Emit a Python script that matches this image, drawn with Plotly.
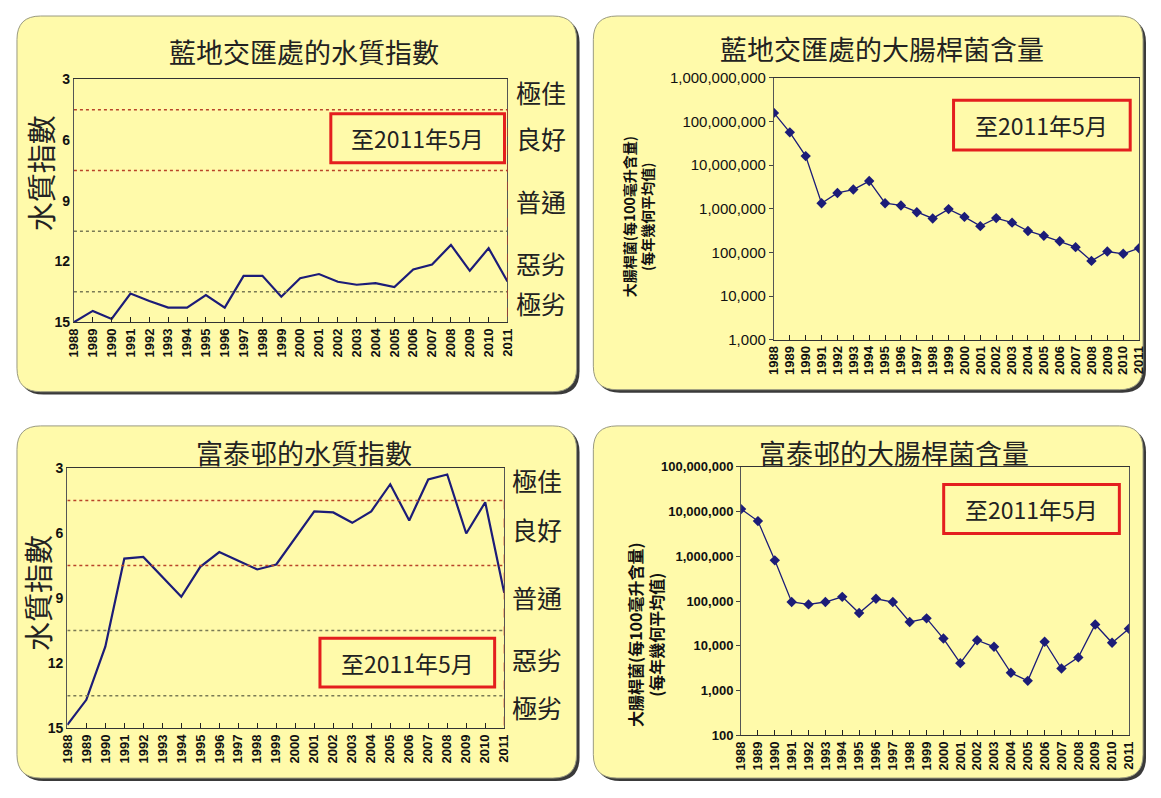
import plotly.graph_objects as go

# ---------------- data ----------------
years = [1988, 1989, 1990, 1991, 1992, 1993, 1994, 1995, 1996, 1997, 1998, 1999,
         2000, 2001, 2002, 2003, 2004, 2005, 2006, 2007, 2008, 2009, 2010, 2011]

lamtei_wqi = [15.0, 14.44, 14.84, 13.58, 13.95, 14.28, 14.28, 13.66, 14.28, 12.71, 12.71, 13.74,
              12.83, 12.62, 13.0, 13.15, 13.07, 13.26, 12.39, 12.15, 11.18, 12.46, 11.34, 12.99]
fuktai_wqi = [14.85, 13.69, 11.24, 7.18, 7.1, 8.0, 8.94, 7.56, 6.88, 7.28, 7.68, 7.45,
              6.2, 5.0, 5.05, 5.53, 5.0, 3.75, 5.42, 3.53, 3.3, 6.02, 4.58, 8.76]
lamtei_ecoli = [1.56e8, 5.6e7, 1.6e7, 1.34e6, 2.3e6, 2.75e6, 4.3e6, 1.34e6, 1.19e6, 8.3e5, 6.0e5, 9.8e5,
                6.5e5, 4.0e5, 6.1e5, 4.8e5, 3.1e5, 2.4e5, 1.8e5, 1.32e5, 6.4e4, 1.05e5, 9.3e4, 1.25e5]
fuktai_ecoli = [1.13e7, 6.1e6, 8.1e5, 9.5e4, 8.4e4, 9.5e4, 1.24e5, 5.4e4, 1.12e5, 9.5e4, 3.4e4, 4.1e4,
                1.45e4, 4.1e3, 1.33e4, 9.5e3, 2.5e3, 1.65e3, 1.23e4, 3.1e3, 5.5e3, 3.0e4, 1.17e4, 2.4e4]

wqi_ticks = [3, 6, 9, 12, 15]
grade_bounds = [4.5, 7.5, 10.5, 13.5]
grade_labels = ["極佳", "良好", "普通", "惡劣", "極劣"]
grade_label_pos_top = [3.65, 5.9, 9.0, 12.05, 14.05]
grade_label_pos_bot = [3.55, 5.8, 8.95, 11.8, 14.0]

ecoli_tick_vals_top = [1e3, 1e4, 1e5, 1e6, 1e7, 1e8, 1e9]
ecoli_tick_text_top = ["1,000", "10,000", "100,000", "1,000,000", "10,000,000", "100,000,000", "1,000,000,000"]
ecoli_tick_vals_bot = [1e2, 1e3, 1e4, 1e5, 1e6, 1e7, 1e8]
ecoli_tick_text_bot = ["100", "1,000", "10,000", "100,000", "1,000,000", "10,000,000", "100,000,000"]

titles = ["藍地交匯處的水質指數", "藍地交匯處的大腸桿菌含量", "富泰邨的水質指數", "富泰邨的大腸桿菌含量"]
note_text = "至2011年5月"
wqi_axis_title = "水質指數"
ecoli_axis_title = "大腸桿菌(每100毫升含量)<br>(每年幾何平均值)"

# ---------------- styling helpers ----------------
PAGE_W, PAGE_H = 1161, 798
BODY_MARGIN = 8                      # default browser body margin around the plot div
W, H = PAGE_W - 2 * BODY_MARGIN, PAGE_H - 2 * BODY_MARGIN
YELLOW = "#FFFAAA"
NAVY = "#1C1C78"
RED = "#E41E1E"
CJK = "Noto Sans CJK TC"
LAT = "Liberation Sans"


def X(px):
    return (px - BODY_MARGIN) / W


def Y(py):
    return 1 - (py - BODY_MARGIN) / H


def rrect_path(x0, y0, x1, y1, r):
    def p(x, y):
        return f"{X(x):.5f},{Y(y):.5f}"
    return (f"M {p(x0 + r, y0)} L {p(x1 - r, y0)} Q {p(x1, y0)} {p(x1, y0 + r)} "
            f"L {p(x1, y1 - r)} Q {p(x1, y1)} {p(x1 - r, y1)} "
            f"L {p(x0 + r, y1)} Q {p(x0, y1)} {p(x0, y1 - r)} "
            f"L {p(x0, y0 + r)} Q {p(x0, y0)} {p(x0 + r, y0)} Z")


fig = go.Figure()

fig.add_trace(go.Scatter(x=years, y=lamtei_wqi, mode="lines", line=dict(color=NAVY, width=2.2),
                         xaxis="x", yaxis="y"))
fig.add_trace(go.Scatter(x=years, y=lamtei_ecoli, mode="lines+markers", line=dict(color=NAVY, width=1.3),
                         marker=dict(symbol="diamond", size=8, color=NAVY),
                         xaxis="x2", yaxis="y2"))
fig.add_trace(go.Scatter(x=years, y=fuktai_wqi, mode="lines", line=dict(color=NAVY, width=2.2),
                         xaxis="x3", yaxis="y3"))
fig.add_trace(go.Scatter(x=years, y=fuktai_ecoli, mode="lines+markers", line=dict(color=NAVY, width=1.3),
                         marker=dict(symbol="diamond", size=8, color=NAVY),
                         xaxis="x4", yaxis="y4"))

# panel geometry (page px)
panels = [(9, 7, 576, 391), (593, 7, 1150, 389), (9, 426, 576, 786), (593, 426, 1150, 786)]
plots = {
    "tl": (66.7, 71.7, 506, 320),
    "tr": (776, 70, 1146, 338),
    "bl": (60, 469, 502.7, 735),
    "br": (742.7, 467.7, 1135.7, 742.3),
}

shapes = []
for (x0, y0, x1, y1) in panels:
    shapes.append(dict(type="path", xref="paper", yref="paper", layer="below",
                       path=rrect_path(x0 + 3, y0 + 3, x1 + 3, y1 + 3, 24),
                       fillcolor="#3A3A3A", line=dict(width=0)))
    shapes.append(dict(type="path", xref="paper", yref="paper", layer="below",
                       path=rrect_path(x0, y0, x1, y1, 24),
                       fillcolor=YELLOW, line=dict(color="#9A9A80", width=1)))

for xa, ya in [("x", "y"), ("x3", "y3")]:
    for i, b in enumerate(grade_bounds):
        col = "#B8442A" if i < 2 else "#7A7A55"
        shapes.append(dict(type="line", xref=xa, yref=ya, x0=years[0], x1=years[-1], y0=b, y1=b,
                           line=dict(color=col, width=1.5, dash="dot"), layer="above"))
    shapes.append(dict(type="line", xref=xa, yref=ya, x0=years[-1], x1=years[-1], y0=grade_bounds[0], y1=15,
                       line=dict(color="#D03020", width=1, dash="dash"), layer="above"))

boxes = [(327, 107, 503, 157), (958, 93, 1137, 144), (316, 643, 493, 693), (948, 486, 1126, 536)]
annotations = []
for (x0, y0, x1, y1) in boxes:
    shapes.append(dict(type="rect", xref="paper", yref="paper", x0=X(x0), x1=X(x1), y0=Y(y1), y1=Y(y0),
                       fillcolor=YELLOW, line=dict(color=RED, width=3), layer="above"))
    annotations.append(dict(xref="paper", yref="paper", x=X((x0 + x1) / 2), y=Y((y0 + y1) / 2),
                            text=note_text, showarrow=False, xanchor="center", yanchor="middle",
                            font=dict(family=CJK, size=23, color="#222222")))

title_pos = [(300, 43), (885, 40), (300, 453), (898, 453)]
for t, (cx, cy) in zip(titles, title_pos):
    annotations.append(dict(xref="paper", yref="paper", x=X(cx), y=Y(cy), text=t, showarrow=False,
                            xanchor="center", yanchor="middle",
                            font=dict(family=CJK, size=27, color="#222222")))

for ya, xpx, positions in [("y", 540, grade_label_pos_top), ("y3", 536, grade_label_pos_bot)]:
    for lab, pos in zip(grade_labels, positions):
        annotations.append(dict(xref="paper", yref=ya, x=X(xpx), y=pos, text=lab, showarrow=False,
                                xanchor="center", yanchor="middle",
                                font=dict(family=CJK, size=25, color="#222222")))

annotations.append(dict(xref="paper", yref="paper", x=X(32), y=Y(168), text=wqi_axis_title, showarrow=False,
                        xanchor="center", yanchor="middle",
                        textangle=-90, font=dict(family=CJK, size=29, color="#222222")))
annotations.append(dict(xref="paper", yref="paper", x=X(29), y=Y(597), text=wqi_axis_title, showarrow=False,
                        xanchor="center", yanchor="middle",
                        textangle=-90, font=dict(family=CJK, size=29, color="#222222")))
annotations.append(dict(xref="paper", yref="paper", x=X(638), y=Y(212), text=ecoli_axis_title, showarrow=False,
                        xanchor="center", yanchor="middle",
                        textangle=-90, font=dict(family=CJK, size=14, color="#111111", weight="bold")))
annotations.append(dict(xref="paper", yref="paper", x=X(646), y=Y(640), text=ecoli_axis_title, showarrow=False,
                        xanchor="center", yanchor="middle",
                        textangle=-90, font=dict(family=CJK, size=16, color="#111111", weight="bold")))


def xaxis_cfg(key, anchor):
    x0, y0, x1, y1 = plots[key]
    return dict(domain=[X(x0), X(x1)], anchor=anchor, range=[years[0], years[-1]],
                tickmode="array", tickvals=years, ticktext=[str(v) for v in years],
                tickangle=-90, tickfont=dict(family=LAT, size=13, color="#111111", weight="bold"),
                ticks="inside", ticklen=5, tickcolor="#222222",
                showline=True, linecolor="#333333", linewidth=1.2, mirror=True,
                showgrid=False, zeroline=False, fixedrange=True)


def yaxis_cfg(key, anchor, **kw):
    x0, y0, x1, y1 = plots[key]
    d = dict(domain=[Y(y1), Y(y0)], anchor=anchor, showgrid=False, zeroline=False,
             showline=True, linecolor="#555555", linewidth=1.2, mirror=True, fixedrange=True)
    d.update(kw)
    return d


fig.update_layout(
    width=W, height=H, margin=dict(l=0, r=0, t=0, b=0),
    paper_bgcolor="white", plot_bgcolor=YELLOW, showlegend=False,
    xaxis=xaxis_cfg("tl", "y"),
    yaxis=yaxis_cfg("tl", "x", range=[15, 3], tickmode="array", tickvals=wqi_ticks,
                    ticks="", tickfont=dict(family=LAT, size=14, color="#111111", weight="bold")),
    xaxis2=xaxis_cfg("tr", "y2"),
    yaxis2=yaxis_cfg("tr", "x2", type="log", range=[3, 9], tickmode="array",
                     tickvals=ecoli_tick_vals_top, ticktext=ecoli_tick_text_top,
                     ticks="outside", ticklen=4,
                     tickfont=dict(family=LAT, size=15, color="#111111")),
    xaxis3=xaxis_cfg("bl", "y3"),
    yaxis3=yaxis_cfg("bl", "x3", range=[15, 3], tickmode="array", tickvals=wqi_ticks,
                     ticks="", tickfont=dict(family=LAT, size=14, color="#111111", weight="bold")),
    xaxis4=xaxis_cfg("br", "y4"),
    yaxis4=yaxis_cfg("br", "x4", type="log", range=[2, 8], tickmode="array",
                     tickvals=ecoli_tick_vals_bot, ticktext=ecoli_tick_text_bot,
                     ticks="outside", ticklen=4,
                     tickfont=dict(family=LAT, size=13, color="#111111", weight="bold")),
    shapes=shapes,
    annotations=annotations,
)

fig.write_html("out.html", config={"displayModeBar": False})
